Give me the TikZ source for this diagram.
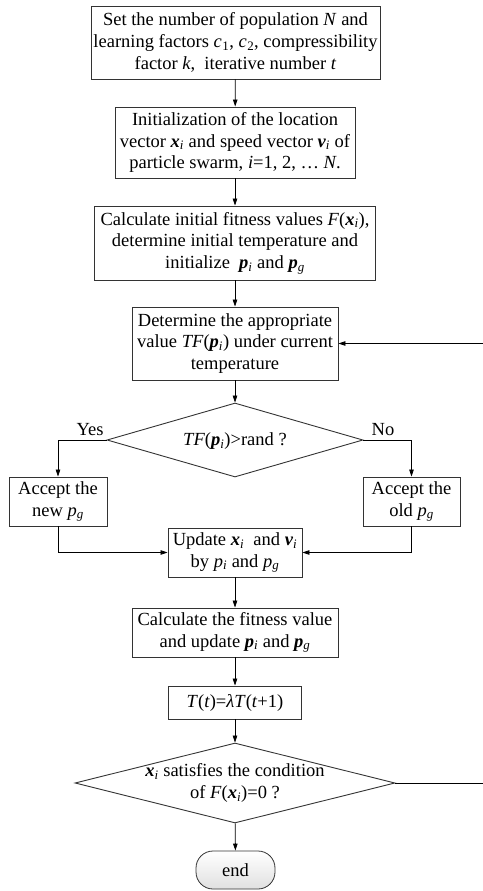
\documentclass[tikz,border=0pt]{standalone}
\usepackage{fontspec}
\setmainfont{Liberation Serif}
\usepackage{tikz}
\usetikzlibrary{arrows.meta, positioning, shapes.geometric, calc}

% bold italic vector with italic index
\newcommand{\bv}[2]{\textbf{\textit{#1}}\textsubscript{\textit{#2}}}
\newcommand{\iv}[2]{\textit{#1}\textsubscript{\textit{#2}}}

\begin{document}
\begin{tikzpicture}[
  x=1pt, y=-1pt,
  every node/.style={align=center, font=\fontsize{18.5}{21.7}\selectfont, inner sep=0pt},
  box/.style={rectangle, draw=black!80, line width=0.9pt},
  decision/.style={diamond, draw=black!80, line width=0.9pt},
  terminal/.style={rectangle, draw=black!80, line width=0.8pt, rounded corners=17pt,
    top color=white, bottom color=black!12},
  >={Triangle[length=7pt, width=4.5pt]}, line width=0.8pt
]
\useasboundingbox (0,0) rectangle (482,891);

% main column
\def\xmid{235}

\node (setup) [box, minimum width=289, minimum height=73] at (235.5, 42.5)
  {Set the number of population \textit{N} and\\
   learning factors \iv{c}{}\textsubscript{1}, \iv{c}{}\textsubscript{2}, compressibility\\
   factor \textit{k},~ iterative number \textit{t}};

\node (init) [box, minimum width=240, minimum height=71] at (\xmid, 142.5)
  {Initialization of the location\\
   vector \bv{x}{i} and speed vector \bv{v}{i} of\\
   particle swarm, \textit{i}=1, 2, \dots\ \textit{N}.};

\node (fitness) [box, minimum width=281, minimum height=74] at (\xmid, 243)
  {Calculate initial fitness values \textit{F}(\bv{x}{i}),\\
   determine initial temperature and\\
   initialize~ \bv{p}{i} and \bv{p}{g}};

\node (determine) [box, minimum width=206, minimum height=73] at (\xmid, 343.5)
  {Determine the appropriate\\
   value \textit{TF}(\bv{p}{i}) under current\\
   temperature};

\node (test) [decision, minimum width=256, minimum height=74] at (\xmid, 440) {};
\node (testtxt) at (\xmid, 441) {\textit{TF}(\bv{p}{i})>rand ?};

\node (accnew) [box, minimum width=98, minimum height=49] at (58, 501.5)
  {Accept the\\ new \iv{p}{g}};
\node (accold) [box, minimum width=97, minimum height=49] at (411.5, 501.5)
  {Accept the\\ old \iv{p}{g}};

\node (update) [box, minimum width=134, minimum height=49] at (\xmid, 552.5)
  {Update \bv{x}{i}~ and \bv{v}{i}\\ by \iv{p}{i} and \iv{p}{g}};

\node (fitval) [box, minimum width=206, minimum height=49] at (\xmid, 632.5)
  {Calculate the fitness value\\ and update \bv{p}{i} and \bv{p}{g}};

\node (temp) [box, minimum width=133, minimum height=33] at (\xmid, 702.5)
  {\textit{T}(\textit{t})=\textit{λT}(\textit{t}+1)};

\node (cond) [decision, minimum width=320, minimum height=80] at (\xmid, 783) {};
\node (condtxt) at (cond) {\bv{x}{i} satisfies the condition\\ of \textit{F}(\bv{x}{i})=0 ?};

\node (end) [terminal, minimum width=79, minimum height=38] at (235.5, 870) {end};

\node (yes) at (90, 430) {Yes};
\node (no) at (383, 430) {No};

% loop back on the right edge
\coordinate (loop) at (485, 783);

% arrows
\draw[->] (setup) -- (init);
\draw[->] (init) -- (fitness);
\draw[->] (fitness) -- (determine);
\draw[->] (determine) -- (test);
\draw[->] (test.west) -| (accnew.north);
\draw[->] (test.east) -| (accold.north);
\draw[->] (accnew.south) |- (update.west);
\draw[->] (accold.south) |- (update.east);
\draw[->] (update) -- (fitval);
\draw[->] (fitval) -- (temp);
\draw[->] (temp) -- (cond);
\draw[->] (cond) -- (end);
\draw[->] (cond.east) -- (loop) |- (determine.east);

\end{tikzpicture}
\end{document}
